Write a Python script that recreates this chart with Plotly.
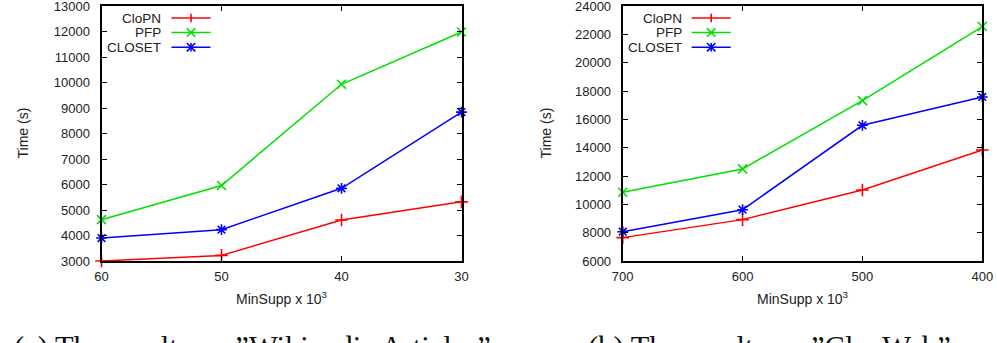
import plotly.graph_objects as go

# ---- data ----
wiki_minsupp = [60, 50, 40, 30]
wiki_clopn = [3000, 3220, 4610, 5320]
wiki_pfp = [4620, 5960, 9930, 11980]
wiki_closet = [3900, 4230, 5850, 8840]

clue_minsupp = [700, 600, 500, 400]
clue_clopn = [7650, 8920, 11010, 13840]
clue_pfp = [10850, 12500, 17320, 22550]
clue_closet = [8070, 9620, 15580, 17580]

series_names = ["CloPN", "PFP", "CLOSET"]
series_colors = ["#ff0000", "#00e000", "#0000ff"]
series_symbols = ["cross-thin", "x-thin", "asterisk-open"]

wiki_yticks = list(range(3000, 13001, 1000))
clue_yticks = list(range(6000, 24001, 2000))

captions = ["(a) The results on \u201dWikipedia Articles\u201d",
            "(b) The results on \u201dClueWeb\u201d"]

W, H = 997, 343
FONT = "Liberation Sans, Arial, sans-serif"

def px(x):
    return x / W

def py(y):
    return 1 - y / H

fig = go.Figure()

panels = [
    dict(x=wiki_minsupp, ys=[wiki_clopn, wiki_pfp, wiki_closet], xa="x", ya="y",
         dom=(101.5, 461.5), yr=(3000, 13000), yt=wiki_yticks,
         leg_text_r=161.5, leg_line=(171.5, 210.5), ytitle_x=22),
    dict(x=clue_minsupp, ys=[clue_clopn, clue_pfp, clue_closet], xa="x2", ya="y2",
         dom=(622.7, 982.3), yr=(6000, 24000), yt=clue_yticks,
         leg_text_r=683.3, leg_line=(691.7, 730.7), ytitle_x=545),
]

annotations = []
shapes = []
for i, p in enumerate(panels):
    for name, col, sym, yv in zip(series_names, series_colors, series_symbols, p["ys"]):
        fig.add_trace(go.Scatter(
            x=p["x"], y=yv, name=name, xaxis=p["xa"], yaxis=p["ya"],
            mode="lines+markers", showlegend=False, cliponaxis=False,
            line=dict(color=col, width=1.5),
            marker=dict(symbol=sym, size=9, color=col, line=dict(color=col, width=1.6)),
        ))
    sfx = "" if i == 0 else "2"
    axcommon = dict(showline=True, linecolor="#000", linewidth=2, mirror="ticks",
                    ticks="inside", ticklen=5, tickcolor="#000", tickwidth=1.2,
                    showgrid=False, zeroline=False, ticklabeloverflow="allow",
                    automargin=False,
                    tickfont=dict(family=FONT, size=13, color="#222"))
    fig.update_layout(**{
        "xaxis" + sfx: dict(domain=[px(p["dom"][0]), px(p["dom"][1])],
                            range=[p["x"][0], p["x"][-1]], tickvals=p["x"],
                            ticktext=[str(v) for v in p["x"]],
                            anchor="y" + sfx, ticklabelstandoff=2, **axcommon),
        "yaxis" + sfx: dict(domain=[py(261), py(6)], range=list(p["yr"]),
                            tickvals=p["yt"], ticktext=[str(v) for v in p["yt"]],
                            anchor="x" + sfx, ticklabelstandoff=7, **axcommon),
    })
    cx = (p["dom"][0] + p["dom"][1]) / 2
    annotations.append(dict(x=px(cx), y=py(298), xref="paper", yref="paper",
                            text="MinSupp x 10<sup>3</sup>", showarrow=False,
                            font=dict(family=FONT, size=14, color="#222"),
                            xanchor="center", yanchor="middle"))
    annotations.append(dict(x=px(p["ytitle_x"]), y=py(133.5), xref="paper", yref="paper",
                            text="Time (s)", textangle=-90, showarrow=False,
                            font=dict(family=FONT, size=14, color="#222"),
                            xanchor="center", yanchor="middle"))
    # custom gnuplot-style legend (text left, sample right)
    for k, (name, col) in enumerate(zip(series_names, series_colors)):
        ly = 18 + k * 14.6
        annotations.append(dict(x=px(p["leg_text_r"]), y=py(ly), xref="paper", yref="paper",
                                text=name, showarrow=False, xanchor="right", yanchor="middle",
                                borderpad=0,
                                font=dict(family=FONT, size=13.5, color="#222")))
        x0, x1 = p["leg_line"]
        shapes.append(dict(type="line", xref="paper", yref="paper",
                           x0=px(x0), x1=px(x1), y0=py(ly), y1=py(ly),
                           line=dict(color=col, width=1.5)))
        mx = (x0 + x1) / 2
        r = 4.2
        if k in (0, 2):
            shapes.append(dict(type="line", xref="paper", yref="paper",
                               x0=px(mx), x1=px(mx), y0=py(ly - r), y1=py(ly + r),
                               line=dict(color=col, width=1.6)))
        if k in (1, 2):
            shapes.append(dict(type="line", xref="paper", yref="paper",
                               x0=px(mx - r), x1=px(mx + r), y0=py(ly - r), y1=py(ly + r),
                               line=dict(color=col, width=1.6)))
            shapes.append(dict(type="line", xref="paper", yref="paper",
                               x0=px(mx - r), x1=px(mx + r), y0=py(ly + r), y1=py(ly - r),
                               line=dict(color=col, width=1.6)))

annotations.append(dict(x=px(12), y=py(329), xref="paper", yref="paper", text=captions[0],
                        showarrow=False, xanchor="left", yanchor="top",
                        font=dict(family="Liberation Serif, DejaVu Serif, serif", size=30.5, color="#111")))
annotations.append(dict(x=px(586), y=py(329), xref="paper", yref="paper", text=captions[1],
                        showarrow=False, xanchor="left", yanchor="top",
                        font=dict(family="Liberation Serif, DejaVu Serif, serif", size=30.5, color="#111")))

fig.update_layout(width=W, height=H, margin=dict(l=0, r=0, t=0, b=0),
                  paper_bgcolor="white", plot_bgcolor="white",
                  annotations=annotations, shapes=shapes, showlegend=False)

fig.write_html("out.html")
